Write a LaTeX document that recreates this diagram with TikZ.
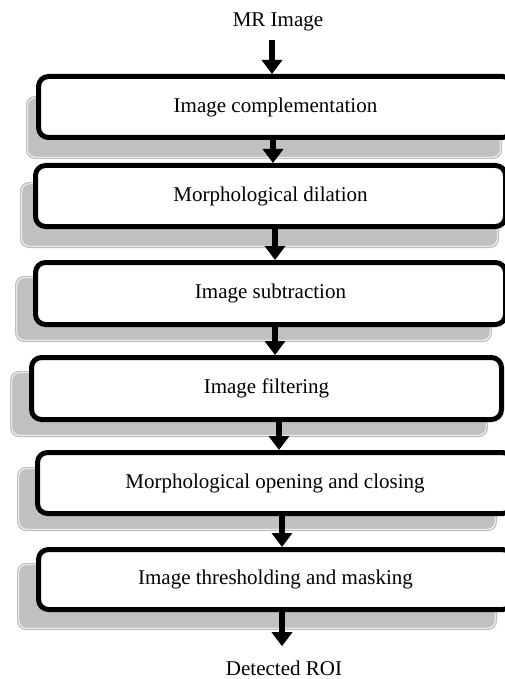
\documentclass[tikz,border=0pt]{standalone}
\usepackage{fontspec}
\setmainfont{Liberation Serif}
\usetikzlibrary{arrows.meta}
\definecolor{shadowgray}{RGB}{192,192,192}
\newcommand\shadowpanel[4]{%
  \fill[shadowgray, rounded corners=9pt] (#1,#2) rectangle (#3,#4);
  \draw[white, line width=0.8pt, rounded corners=7.5pt] (#1+1.8,#2+1.8) rectangle (#3-1.8,#4-1.8);
}
\begin{document}
\begin{tikzpicture}[x=1pt,y=-1pt,
  every node/.style={font=\fontsize{21}{25}\selectfont},
  stepbox/.style={draw=black, line width=5pt, fill=white, rounded corners=10pt,
    minimum height=#1, inner sep=0pt},
  flow/.style={line width=6pt, -{Triangle[width=20pt,length=14pt]}},
  label/.style={inner sep=0pt}]
\useasboundingbox (0,0) rectangle (505,679);
\clip (0,0) rectangle (505,679);
% shadows
\shadowpanel{26}{96}{502}{159}
\shadowpanel{20}{182}{499}{248}
\shadowpanel{15}{276}{492}{342}
\shadowpanel{10}{371}{488}{437}
\shadowpanel{17}{467}{497}{531}
\shadowpanel{17}{563}{497}{630}
% boxes
\node[stepbox=61pt, minimum width=474pt] (b1) at (275.5,107) {Image complementation};
\node[stepbox=61pt, minimum width=470pt] (b2) at (270.5,196) {Morphological dilation};
\node[stepbox=62pt, minimum width=470pt] (b3) at (270.5,293.5) {Image subtraction};
\node[stepbox=62pt, minimum width=470pt] (b4) at (266.5,388.5) {Image filtering};
\node[stepbox=61pt, minimum width=475pt] (b5) at (275,483) {Morphological opening and closing};
\node[stepbox=60pt, minimum width=474pt] (b6) at (275.5,579.5) {Image thresholding and masking};
% input / output
\node[label, anchor=base] (in) at (278,27) {MR Image};
\node[label, anchor=base] (out) at (284,675) {Detected ROI};
% arrows
\draw[flow, shorten <=8pt] ([xshift=-3.5pt]b1.north |- in.south) -- ([xshift=-3.5pt]b1.north);
\draw[flow] ([xshift=-2.5pt]b1.south) -- ([xshift=-2.5pt]b1.south |- b2.north);
\draw[flow] ([xshift=4.5pt]b2.south) -- ([xshift=4.5pt]b2.south |- b3.north);
\draw[flow] ([xshift=4.5pt]b3.south) -- ([xshift=4.5pt]b3.south |- b4.north);
\draw[flow] ([xshift=12.5pt]b4.south) -- ([xshift=12.5pt]b4.south |- b5.north);
\draw[flow] ([xshift=7pt]b5.south) -- ([xshift=7pt]b5.south |- b6.north);
\draw[flow, shorten >=14pt] ([xshift=6.5pt]b6.south) -- ([xshift=6.5pt]b6.south |- out.north);
\end{tikzpicture}
\end{document}
